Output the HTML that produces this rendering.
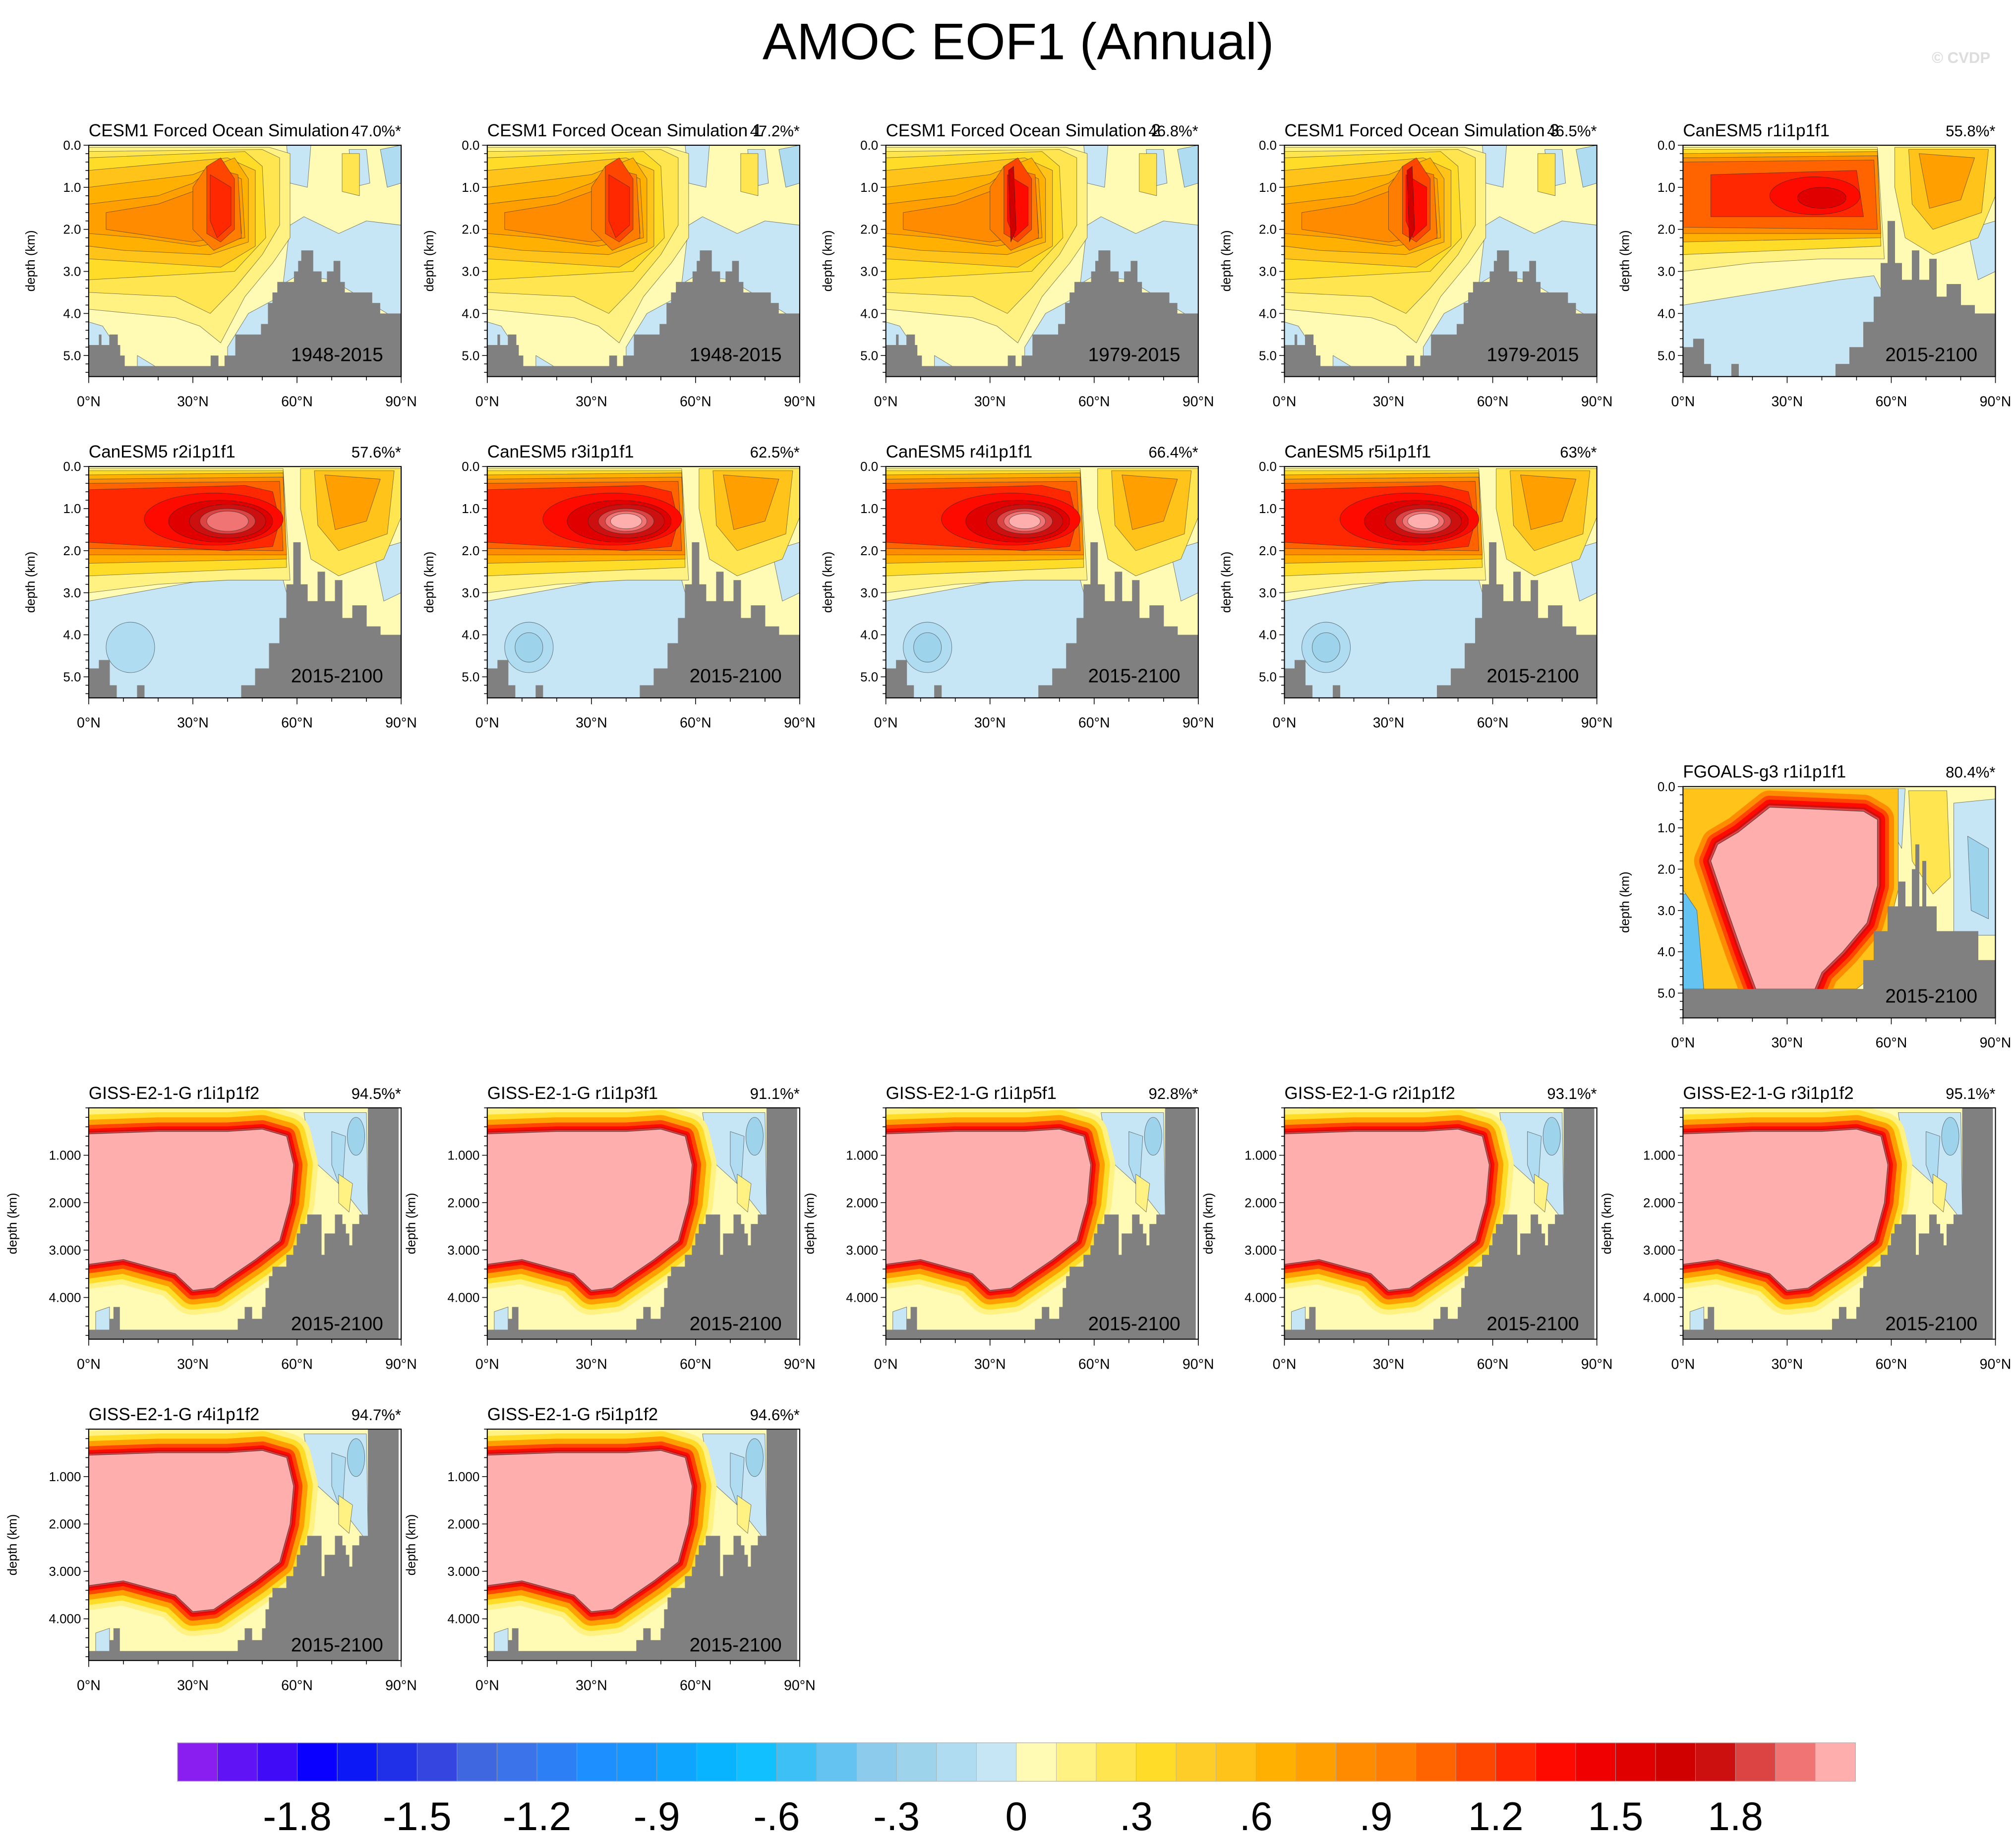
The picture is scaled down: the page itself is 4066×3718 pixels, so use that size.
<!DOCTYPE html>
<html><head><meta charset="utf-8"><title>AMOC EOF1 (Annual)</title>
<style>html,body{margin:0;padding:0;background:#fff;}svg{display:block;}text{font-family:"Liberation Sans",sans-serif;}</style></head>
<body>
<svg id="fig" xmlns="http://www.w3.org/2000/svg" width="4066" height="3718" viewBox="0 0 1568 1434" preserveAspectRatio="none">
<rect width="1568" height="1434" fill="#fff"/>
<text x="792" y="46" font-size="40" text-anchor="middle">AMOC EOF1 (Annual)</text>
<text x="1548" y="49" font-size="12" text-anchor="end" fill="#ddd" font-weight="bold">© CVDP</text>
<g id="panels"></g>
<g id="colorbar"></g>
</svg>
<script>
const NS="http://www.w3.org/2000/svg";
// colour bar data
const cbLevels=[-2.0,-1.9,-1.8,-1.7,-1.6,-1.5,-1.4,-1.3,-1.2,-1.1,-1.0,-0.9,-0.8,-0.7,-0.6,-0.5,-0.4,-0.3,-0.2,-0.1,0,0.1,0.2,0.3,0.4,0.5,0.6,0.7,0.8,0.9,1.0,1.1,1.2,1.3,1.4,1.5,1.6,1.7,1.8,1.9,2.0];
const cbColors=["#8a1ef0","#6014f5","#400cf8","#0a00ff","#0c18f5","#2030e8","#3445e0","#3f68e0","#3a73ea","#2d7ff5","#1e8fff","#1896ff","#0ea5ff","#08b4ff","#10c0ff","#3cc0f5","#64c3f0","#8ccbec","#9ed3ec","#b0dcf2","#c6e5f5",
"#fffbb4","#fff282","#ffe650","#ffdc28","#ffcd28","#ffc31a","#ffb000","#ff9f00","#ff8c00","#ff7d00","#ff6400","#ff4600","#ff2800","#ff0a00","#f00000","#e00000","#d00000","#cc1010","#dc4444","#f07474","#ffaeae"];
const cbTickLabels=["-1.8","-1.5","-1.2","-.9","-.6","-.3","0",".3",".6",".9","1.2","1.5","1.8"];
const cbTickValues=[-1.8,-1.5,-1.2,-0.9,-0.6,-0.3,0,0.3,0.6,0.9,1.2,1.5,1.8];

// panel metadata
const panelTitles=["CESM1 Forced Ocean Simulation","CESM1 Forced Ocean Simulation 1","CESM1 Forced Ocean Simulation 2","CESM1 Forced Ocean Simulation 3","CanESM5 r1i1p1f1",
"CanESM5 r2i1p1f1","CanESM5 r3i1p1f1","CanESM5 r4i1p1f1","CanESM5 r5i1p1f1","FGOALS-g3 r1i1p1f1",
"GISS-E2-1-G r1i1p1f2","GISS-E2-1-G r1i1p3f1","GISS-E2-1-G r1i1p5f1","GISS-E2-1-G r2i1p1f2","GISS-E2-1-G r3i1p1f2","GISS-E2-1-G r4i1p1f2","GISS-E2-1-G r5i1p1f2"];
const panelPcts=["47.0%*","47.2%*","46.8%*","46.5%*","55.8%*","57.6%*","62.5%*","66.4%*","63%*","80.4%*","94.5%*","91.1%*","92.8%*","93.1%*","95.1%*","94.7%*","94.6%*"];
const panelYears=["1948-2015","1948-2015","1979-2015","1979-2015","2015-2100","2015-2100","2015-2100","2015-2100","2015-2100","2015-2100","2015-2100","2015-2100","2015-2100","2015-2100","2015-2100","2015-2100","2015-2100"];
const panelTypes=["cesm","cesm","cesm","cesm","can","can","can","can","can","fgoals","giss","giss","giss","giss","giss","giss","giss"];
const panelVariant=[0,1,2,3,0,1,2,3,4,0,0,1,2,3,4,5,6];
const panelCol=[0,1,2,3,4,0,1,2,3,4,0,1,2,3,4,0,1];
const panelRow=[0,0,0,0,0,1,1,1,1,2,3,3,3,3,3,4,4];
const colX=[69,379,689,999,1309];
const rowY=[113,363,612,862,1112];
const W=243,H=180;

// bathymetry [lat0, lat1, depth km]
const bathyCesm=[[0,3,4.75],[3,3.6,4.5],[3.6,6,4.75],[6,8.3,4.5],[8.3,9,4.75],[9,10.3,5.0],[10.3,35.2,5.25],[35.2,37.3,5.0],[37.3,39.2,5.25],[39.2,42.3,5.0],[42.3,49.7,4.5],[49.7,51.7,4.25],[51.7,53,3.75],[53,54.4,3.5],[54.4,59.2,3.25],[59.2,60.4,3.0],[60.4,61.3,2.75],[61.3,64.6,2.5],[64.6,67,3.0],[67,68.7,3.25],[68.7,70.6,3.0],[70.6,72.4,2.75],[72.4,73.7,3.25],[73.7,81.6,3.5],[81.6,83.9,3.75],[83.9,90,4.0]];
const bathyCan=[[0,3,4.8],[3,6,4.6],[6,8,5.2],[8,14,5.5],[14,16,5.2],[16,44,5.5],[44,48,5.2],[48,52,4.8],[52,55,4.2],[55,57,3.6],[57,59,2.8],[59,61,1.8],[61,63,2.8],[63,66,3.2],[66,68,2.5],[68,71,3.2],[71,73,2.7],[73,76,3.6],[76,80,3.3],[80,84,3.8],[84,90,4.0]];
const bathyFg=[[0,52,4.9],[52,55,4.2],[55,59,3.5],[59,62,2.9],[62,64,2.3],[64,66,2.9],[66,67,2.0],[67,68,1.4],[68,69,2.9],[69,70,1.8],[70,73,2.9],[73,85,3.5],[85,90,4.2]];
const bathyGiss=[[0,6,4.68],[6,7.2,4.45],[7.2,8.9,4.2],[8.9,43,4.68],[43,45,4.45],[45,47,4.2],[47,50,4.45],[50,51,4.2],[51,52,3.8],[52,53,3.55],[53,57,3.35],[57,59,3.1],[59,60,2.9],[60,61,2.65],[61,63,2.45],[63,67,2.25],[67,68,3.1],[68,70,2.65],[70,71,2.65],[71,73,2.25],[73,74,2.45],[74,75,2.65],[75,76,2.9],[76,78,2.45],[78,80.5,2.25],[80.5,89.2,0]];

function el(tag,attrs,parent){const e=document.createElementNS(NS,tag);for(const k in attrs)e.setAttribute(k,attrs[k]);if(parent)parent.appendChild(e);return e;}

function drawPanel(i){
  const type=panelTypes[i],v=panelVariant[i];
  const x0=colX[panelCol[i]],y0=rowY[panelRow[i]];
  const maxD=type==="giss"?4.88:(type==="fgoals"?5.6:5.5);
  const X=la=>la/90*W, Y=d=>d/maxD*H;
  const g=el("g",{transform:`translate(${x0},${y0})`},document.getElementById("panels"));
  
  
  const cid="clip"+i;
  const cp=el("clipPath",{id:cid},g);el("rect",{x:0,y:0,width:W,height:H},cp);
  const f=el("g",{"clip-path":`url(#${cid})`},g);
  
  
  const P=(pts,fill,sw)=>el("path",{d:"M"+pts.map(p=>X(p[0]).toFixed(1)+","+Y(p[1]).toFixed(1)).join("L")+"Z",fill:fill,stroke:"#222","stroke-width":sw===undefined?0.35:sw,"stroke-opacity":0.6,"stroke-linejoin":"round"},f);
  const E=(cx,cy,rx,ry,fill)=>el("ellipse",{cx:X(cx),cy:Y(cy),rx:X(rx),ry:Y(ry),fill:fill,stroke:"#222","stroke-width":0.35,"stroke-opacity":0.6},f);
  el("rect",{x:0,y:0,width:W,height:H,fill:"#fffbb4"},f);
  let bathy;
  if(type==="cesm"){
    bathy=bathyCesm;
    P([[58,1.9],[62,1.7],[72,2.1],[80,1.8],[90,1.9],[90,4.2],[70,3.2],[60,3.1],[56,3.3]],"#c6e5f5");
    P([[57,0],[64,0],[63,1],[58,0.9]],"#c6e5f5");
    P([[75,0.1],[80,0.1],[81,0.9],[76,1.0]],"#c6e5f5");
    P([[84,0.1],[90,0],[90,0.9],[86,1.0]],"#b0dcf2");
    P([[0,4.2],[4,4.3],[8,4.8],[10,5.4],[0,5.4]],"#c6e5f5");
    P([[40,4.8],[46,4.0],[55,3.6],[55,5.4],[40,5.4]],"#c6e5f5");
    P([[14,5.0],[22,5.4],[14,5.4]],"#c6e5f5");
    P([[0,0.05],[52,0.05],[58,0.2],[58,2.2],[53,2.8],[45,3.6],[38,4.7],[32,4.3],[25,4.1],[0,3.9]],"#fff282");
    P([[0,0.15],[50,0.1],[55,0.3],[55,1.9],[50,2.6],[42,3.4],[35,4.0],[25,3.6],[0,3.5]],"#ffe650");
    P([[73,0.2],[78,0.2],[78,1.2],[73,1.1]],"#ffe650");
    P([[0,0.3],[45,0.15],[50,0.5],[51,2.2],[42,3.0],[0,3.2]],"#ffdc28");
    P([[0,0.6],[40,0.3],[48,0.6],[48,2.4],[38,2.9],[0,2.7]],"#ffc31a");
    P([[0,1.0],[30,0.7],[42,0.3],[46,0.8],[46,2.3],[35,2.6],[10,2.5],[0,2.4]],"#ffb000");
    P([[0,1.4],[20,1.2],[30,0.9],[36,0.5],[44,0.8],[45,2.2],[32,2.4],[15,2.2],[0,2.1]],"#ff9f00");
    P([[5,1.6],[20,1.4],[30,1.1],[36,0.6],[43,0.8],[44,2.1],[30,2.3],[5,2.0]],"#ff8c00");
    P([[30,1.0],[34,0.5],[43,0.7],[44,2.2],[36,2.5],[30,2.0]],"#ff7d00");
    P([[34,0.5],[38,0.3],[42,0.8],[42,2.0],[38,2.3],[34,2.1]],"#ff4600");
    P([[35,0.7],[41,1.0],[41,1.9],[37,2.2],[35,1.8]],v>=2?"#ff0a00":"#ff2800");
    if(v>=2)P([[35.3,0.6],[36.8,0.5],[37.5,2.0],[36,2.3]],"#d00000");
  } else if(type==="can"){
    bathy=bathyCan;
    if(v===0)P([[0,3.8],[15,3.6],[30,3.4],[45,3.2],[55,3.1],[58,3.6],[58,5.6],[0,5.6]],"#c6e5f5");
    else P([[0,3.2],[20,2.9],[40,2.6],[55,2.4],[57,3],[58,5.6],[0,5.6]],"#c6e5f5");
    if(v>=1){E(12,4.3,7,0.6,"#b0dcf2");if(v>=2)E(12,4.3,4,0.35,"#9ed3ec");}
    P([[82,2],[90,1.8],[90,3],[85,3.2]],"#c6e5f5");
    P([[0,0.05],[56,0.05],[58,2.7],[40,2.7],[20,2.8],[0,3.0]],"#fff282");
    P([[0,0.1],[56,0.1],[57,2.4],[0,2.6]],"#ffdc28");
    P([[0,0.2],[56,0.15],[57,2.2],[0,2.3]],"#ffb000");
    P([[0,0.3],[56,0.25],[57,2.1],[0,2.1]],"#ff8c00");
    P([[0,0.4],[55,0.35],[56,2.0],[0,1.95]],"#ff6400");
    if(v===0){P([[8,0.7],[50,0.6],[52,1.7],[8,1.7]],"#ff2800");E(38,1.2,13,0.45,"#ff0a00");E(40,1.25,7,0.25,"#e00000");}
    else{
      P([[0,0.55],[45,0.45],[53,0.6],[55,1.3],[53,1.9],[40,2.0],[0,1.8]],"#ff2800");
      E(36,1.25,20,0.62,"#ff0a00");E(38,1.3,15,0.5,"#e00000");E(40,1.3,11,0.4,"#cc1010");
      E(40,1.3,8,0.3,"#dc4444");E(40,1.3,6,0.24,"#f07474");
      if(v>=2)E(40,1.3,4.5,0.18,"#ffaeae");
    }
    P([[61,0.05],[90,0.05],[90,1.2],[85,2.2],[72,2.6],[64,2.2],[61,1]],"#ffe650");
    P([[65,0.1],[88,0.1],[86,1.6],[72,2.0],[66,1.4]],"#ffc31a");
    P([[68,0.2],[84,0.3],[80,1.3],[71,1.5]],"#ff9f00");
  } else if(type==="fgoals"){
    bathy=bathyFg;
    P([[60,0.05],[64,0.05],[63,1.5],[61,1.2]],"#c6e5f5");
    P([[78,0.4],[90,0.3],[90,3.6],[78,3.6]],"#c6e5f5");
    P([[82,1.2],[88,1.5],[88,3.2],[83,3.0]],"#9ed3ec");
    P([[65,0.1],[76,0.1],[77,2.2],[72,2.6],[66,1.8]],"#ffe650");
    P([[0,2.6],[4,2.6],[6,4.9],[0,4.9]],"#64c3f0");
    P([[0,0.05],[62,0.05],[62,2.5],[56,4.5],[50,4.9],[6,4.9],[4,3],[0,2.5]],"#ffc31a");
    const pink=[[16,1.1],[25,0.5],[52,0.6],[56,0.8],[56,2.4],[53,3.3],[46,4.0],[40,4.5],[38,4.9],[21,4.9],[17,4.0],[12,2.8],[8,1.8],[10,1.4]];
    [[26,"#ff8c00"],[18,"#ff4600"],[12,"#ff0a00"],[6,"#cc1010"],[3,"#dc4444"]].forEach(s=>{const p=P(pink,"#ffaeae",0);p.setAttribute("stroke",s[1]);p.setAttribute("stroke-width",s[0]);p.setAttribute("stroke-opacity",1);});
    P(pink,"#ffaeae",0.5);
  } else {
    bathy=bathyGiss;
    P([[62,0.1],[80,0.1],[80.5,2.4],[72,1.6],[66,1.2],[63,0.6]],"#c6e5f5");
    P([[70,0.5],[74,0.6],[73,1.8],[70,1.2]],"#b0dcf2");
    E(77,0.6,2.5,0.4,"#9ed3ec");
    P([[72,1.4],[76,1.6],[75,2.2],[72,2.0]],"#fff282");
    P([[20,0.02],[35,0.02],[33,0.25],[22,0.2]],"#c6e5f5");
    P([[2,4.3],[6,4.2],[6,4.7],[2,4.7]],"#c6e5f5");
    const pink=[[0,0.55],[20,0.5],[40,0.5],[50,0.45],[57,0.6],[59,1.2],[58,2.0],[55,2.8],[48,3.2],[42,3.5],[36,3.8],[30,3.85],[25,3.5],[15,3.3],[10,3.2],[0,3.3]];
    [[38,"#fff282"],[30,"#ffdc28"],[22,"#ff9f00"],[14,"#ff4600"],[8,"#ff0a00"],[4,"#cc1010"],[2,"#dc4444"]].forEach(s=>{const p=P(pink,"#ffaeae",0);p.setAttribute("stroke",s[1]);p.setAttribute("stroke-width",s[0]);p.setAttribute("stroke-opacity",1);});
    P(pink,"#ffaeae",0.5);
    el("rect",{x:X(89.2),y:0,width:W-X(89.2)+1,height:H,fill:"#fff"},f);
  }
  // bathymetry
  const bg=el("g",{},f);
  
  
  bathy.forEach(b=>{el("rect",{x:X(b[0])-0.2,y:Y(b[2]),width:X(b[1]-b[0])+0.4,height:H-Y(b[2])+1,fill:"#808080"},bg);});
  // frame
  el("rect",{x:0,y:0,width:W,height:H,fill:"none",stroke:"#000","stroke-width":0.8},g);
  // y ticks
  const yt=type==="giss"?[1,2,3,4]:[0,1,2,3,4,5];
  for(let d=0;d<=maxD+1e-6;d+=0.2){const y=Y(d);const maj=yt.some(t=>Math.abs(t-d)<1e-6);el("line",{x1:0,x2:maj?-4:-2.5,y1:y,y2:y,stroke:"#000","stroke-width":0.6},g);}
  yt.forEach(t=>{const tx=el("text",{x:-6,y:Y(t)+3.5,"font-size":10,"text-anchor":"end"},g);
    tx.textContent=type==="giss"?(t+".000"):t.toFixed(1);
    });
  // x ticks
  for(let la=0;la<=90;la+=10){const x=X(la);const maj=la%30===0;el("line",{x1:x,x2:x,y1:H,y2:H+(maj?5:3),stroke:"#000","stroke-width":0.6},g);}
  [0,30,60,90].forEach(la=>{const tx=el("text",{x:X(la),y:H+23,"font-size":11,"text-anchor":"middle"},g);tx.textContent=la+"°N";
    });
  const yl=el("text",{transform:`translate(${type==="giss"?-56:-42},${H/2}) rotate(-90)`,"font-size":10,"text-anchor":"middle"},g);yl.textContent="depth (km)";
  
  const tt=el("text",{x:0,y:-7,"font-size":13.5},g);tt.textContent=panelTitles[i];
  
  const pc=el("text",{x:W,y:-7,"font-size":12,"text-anchor":"end"},g);pc.textContent=panelPcts[i];
  
  const yr=el("text",{x:229,y:type==="giss"?H-7:H-12,"font-size":15,"text-anchor":"end"},g);yr.textContent=panelYears[i];
  
}
for(let i=0;i<panelTitles.length;i++)drawPanel(i);

// colorbar
(function(){
  const cb=document.getElementById("colorbar");
  const x0=138,x1=1443,y0=1356,h=30;
  const bw=(x1-x0)/cbColors.length;
  const lx=v=>x0+bw*(cbLevels.findIndex(l=>Math.abs(l-v)<1e-6)+1);
  cbColors.forEach((c,k)=>{const r=el("rect",{x:x0+k*bw,y:y0,width:bw+0.3,height:h,fill:c,stroke:"#aaa","stroke-width":0.3},cb);
    });
  el("rect",{x:x0,y:y0,width:x1-x0,height:h,fill:"none",stroke:"#bbb","stroke-width":0.6},cb);
  cbTickValues.forEach((v,k)=>{const t=el("text",{x:lx(v),y:1424,"font-size":31,"text-anchor":"middle"},cb);t.textContent=cbTickLabels[k];
    });
})();
</script>
</body></html>
